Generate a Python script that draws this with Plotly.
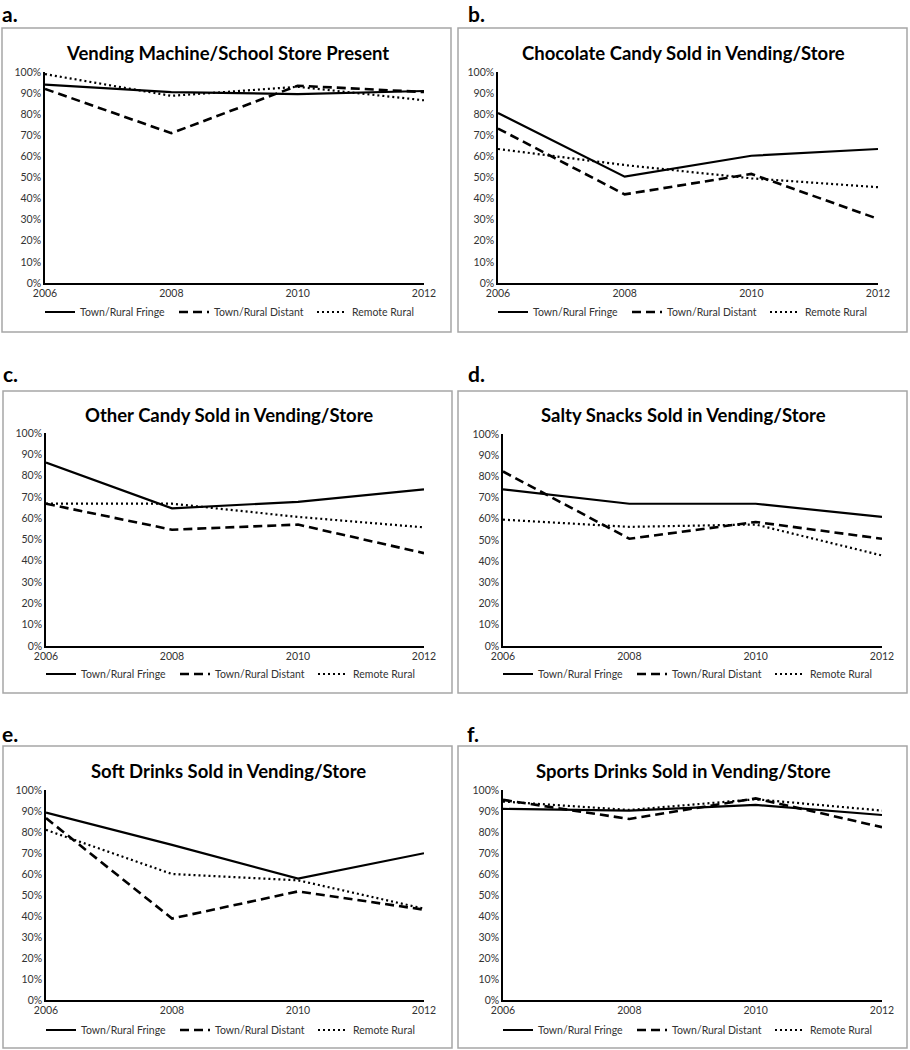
import plotly.graph_objects as go

W, H = 910, 1050
years = [2006, 2008, 2010, 2012]
series_names = ["Town/Rural Fringe", "Town/Rural Distant", "Remote Rural"]

titles = [
    "Vending Machine/School Store Present",
    "Chocolate Candy Sold in Vending/Store",
    "Other Candy Sold in Vending/Store",
    "Salty Snacks Sold in Vending/Store",
    "Soft Drinks Sold in Vending/Store",
    "Sports Drinks Sold in Vending/Store",
]
letters = ["a.", "b.", "c.", "d.", "e.", "f."]

# values in percent: fringe, distant, remote
a_fringe = [94, 90.5, 89.5, 91]
a_distant = [92, 71, 93.5, 90.5]
a_remote = [99, 88.7, 93, 86.6]

b_fringe = [80.6, 50.4, 60.3, 63.5]
b_distant = [73.2, 42, 51.7, 30.4]
b_remote = [63.5, 55.9, 49.6, 45.4]

c_fringe = [86.1, 64.6, 67.7, 73.5]
c_distant = [66.8, 54.6, 57, 43.6]
c_remote = [66.8, 66.8, 60.6, 55.7]

d_fringe = [73.9, 67.1, 67.1, 60.9]
d_distant = [82.3, 50.6, 58.5, 50.6]
d_remote = [59.6, 56.2, 57.3, 42.7]

e_fringe = [89.2, 73.9, 57.8, 69.9]
e_distant = [86.6, 38.8, 51.7, 43]
e_remote = [81, 60, 57, 43.5]

f_fringe = [91, 90.2, 92.9, 88.1]
f_distant = [95.3, 86.2, 96, 82.3]
f_remote = [94.5, 90.5, 95.6, 90.2]

panel_data = [
    (a_fringe, a_distant, a_remote),
    (b_fringe, b_distant, b_remote),
    (c_fringe, c_distant, c_remote),
    (d_fringe, d_distant, d_remote),
    (e_fringe, e_distant, e_remote),
    (f_fringe, f_distant, f_remote),
]

# layout geometry in pixels
plot_x = [(45, 424), (498, 878), (46, 424), (503, 882), (46, 424), (503, 882)]
plot_y = [(72, 283), (72, 283), (433, 646), (434, 646), (790, 1000), (790, 1000)]
boxes = [(2, 28, 451, 332), (458, 28, 907, 332), (3, 391, 452, 693),
         (458, 391, 907, 693), (3, 746, 452, 1048), (458, 746, 907, 1048)]
letter_pos = [(0, 13), (466, 13), (1, 373), (466, 373), (0, 733), (465, 733)]
title_y = [53, 53, 415, 415, 771, 771]
legend_y = [312, 312, 674, 674, 1030, 1030]
legend_offsets = [0, 134, 272]

def px(x):
    return x / W

def py(y):
    return 1 - y / H

dashes = ["solid", "9px,5px", "2px,3px"]
widths = [2.2, 2.6, 2.2]

FONT = "Lato, 'Open Sans', sans-serif"
TICK = "#333333"

fig = go.Figure()
layout = dict(
    width=W, height=H,
    margin=dict(l=0, r=0, t=0, b=0, pad=0, autoexpand=False),
    paper_bgcolor="white", plot_bgcolor="white",
    font=dict(family=FONT, color=TICK),
    showlegend=True,
)
shapes = []
annotations = []

k = 1
for i in range(6):
    n = "" if i == 0 else str(i + 1)
    xa, ya = "x" + n, "y" + n
    for s in range(3):
        k += 1
        lg = "legend" + str(k)
        vals = [v / 100 for v in panel_data[i][s]]
        fig.add_trace(go.Scatter(
            x=years, y=vals, mode="lines", name=series_names[s],
            line=dict(color="black", width=widths[s], dash=dashes[s]),
            xaxis=xa, yaxis=ya, legend=lg, cliponaxis=False,
        ))
        layout[lg] = dict(
            orientation="h", x=px(plot_x[i][0] + legend_offsets[s] - 5), y=py(legend_y[i]),
            xanchor="left", yanchor="middle",
            font=dict(size=10.5, color=TICK, family=FONT),
            bgcolor="rgba(0,0,0,0)", itemwidth=30,
        )
    layout["xaxis" + n] = dict(
        domain=[px(plot_x[i][0]), px(plot_x[i][1])], anchor=ya,
        range=[2006, 2012], tickvals=years, showgrid=False, zeroline=False,
        showline=True, linecolor="black", linewidth=1.5, ticks="",
        tickfont=dict(size=10.5, color=TICK, family=FONT),
        fixedrange=True, automargin=False,
    )
    layout["yaxis" + n] = dict(
        domain=[py(plot_y[i][1]), py(plot_y[i][0])], anchor=xa,
        range=[0, 1], dtick=0.1, tick0=0, tickformat=".0%", showgrid=False,
        zeroline=False, showline=True, linecolor="black", linewidth=1.5,
        ticks="", tickfont=dict(size=10.5, color=TICK, family=FONT),
        fixedrange=True, automargin=False,
    )
    bx0, by0, bx1, by1 = boxes[i]
    shapes.append(dict(type="rect", xref="paper", yref="paper",
                       x0=px(bx0), x1=px(bx1), y0=py(by1), y1=py(by0),
                       line=dict(color="#a6a6a6", width=1.5), layer="below"))
    annotations.append(dict(
        text="<b>" + titles[i] + "</b>", xref="paper", yref="paper",
        x=px((bx0 + bx1) / 2 + 1), y=py(title_y[i]), xanchor="center", yanchor="middle",
        showarrow=False, font=dict(size=18.5, color="black", family=FONT)))
    annotations.append(dict(
        text="<b>" + letters[i] + "</b>", xref="paper", yref="paper",
        x=px(letter_pos[i][0]), y=py(letter_pos[i][1]), xanchor="left", yanchor="middle",
        showarrow=False, font=dict(size=21, color="black", family=FONT)))

layout["shapes"] = shapes
layout["annotations"] = annotations
fig.update_layout(**layout)
fig.write_html("out.html", config={"displayModeBar": False},
               post_script="document.body.style.margin='0';")
